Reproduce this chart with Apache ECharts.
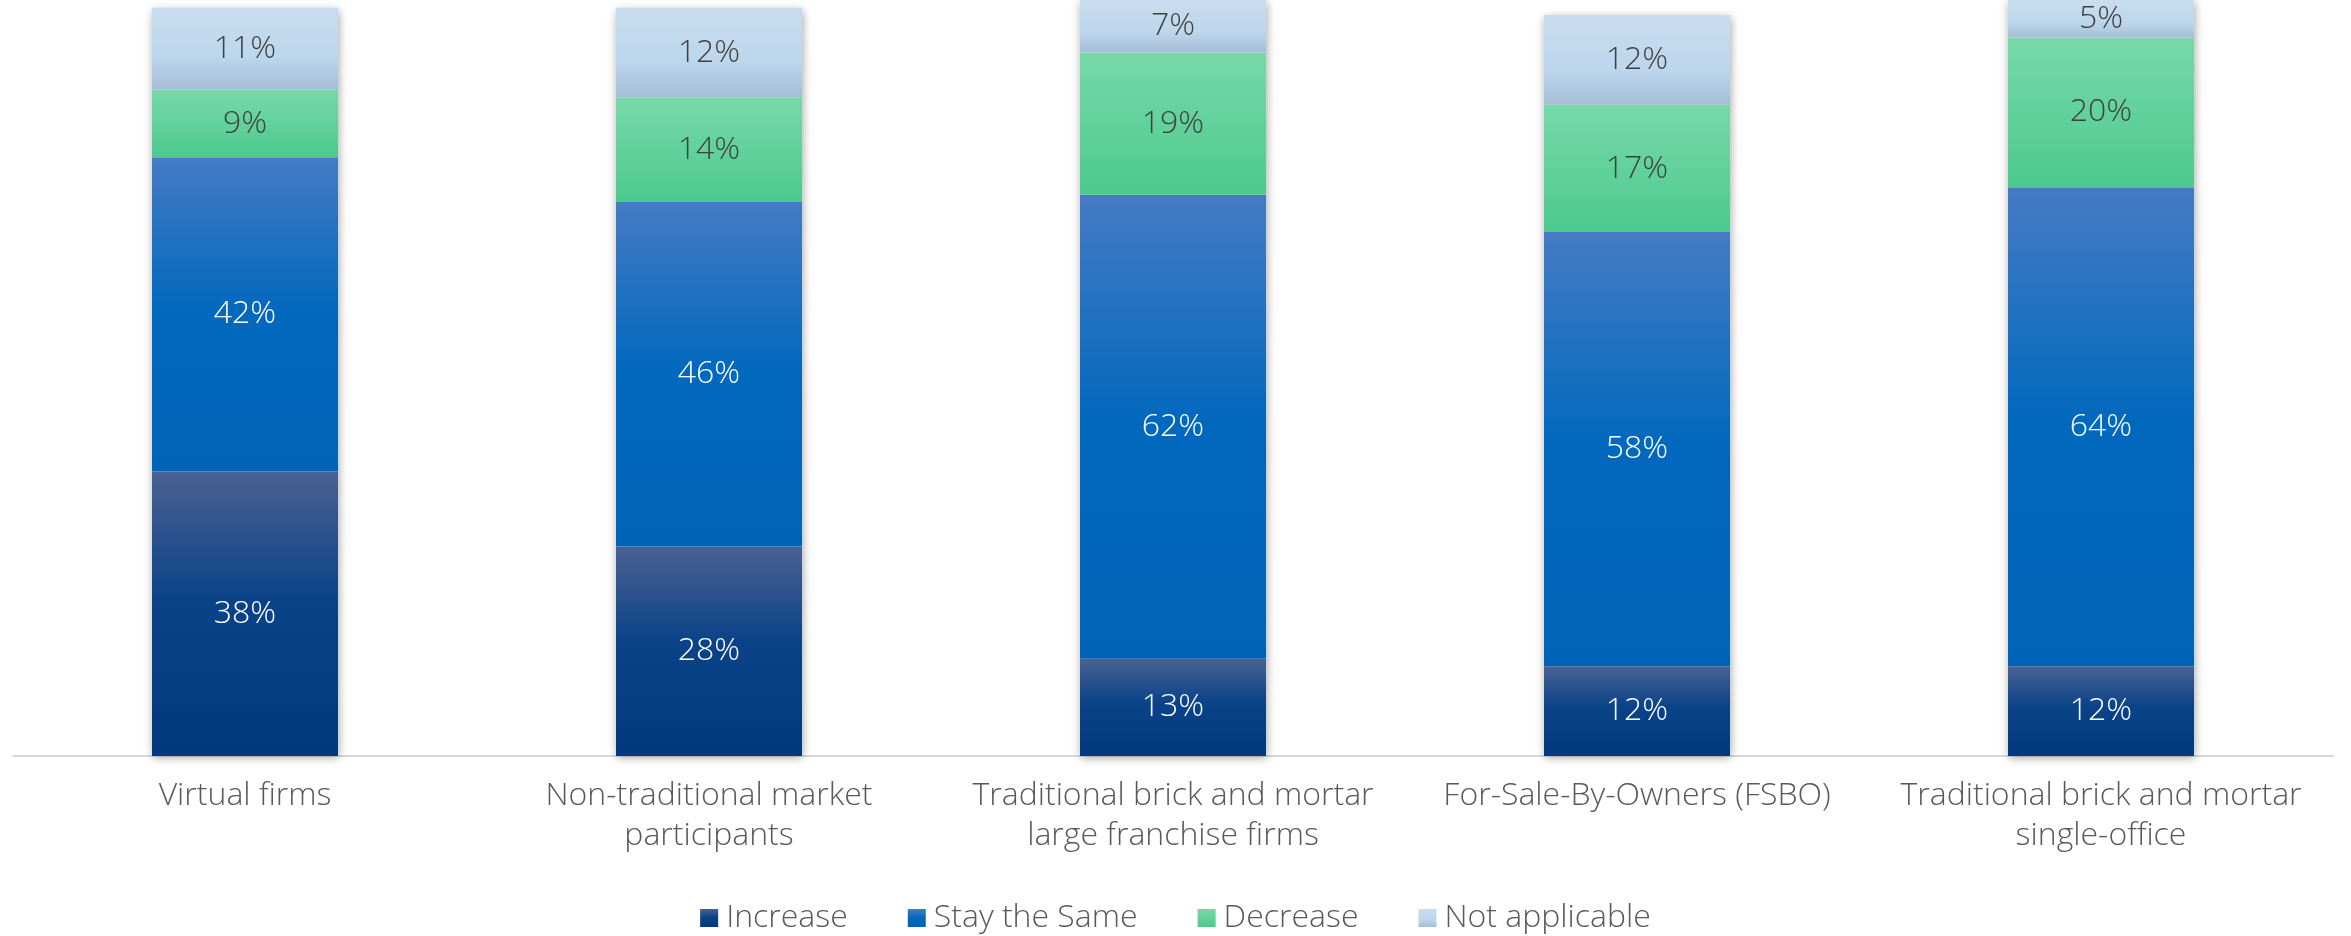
<!DOCTYPE html>
<html>
<head>
<meta charset="utf-8">
<title>Expected change by competitor type</title>
<script src="https://cdn.jsdelivr.net/npm/echarts@6/dist/echarts.min.js"></script>
<style>
  html, body { margin: 0; padding: 0; background: #ffffff; }
  #chart { width: 2351px; height: 936px; }
</style>
</head>
<body>
<div id="chart"></div>
<script>
// Competitor categories (x axis)
const categories = [
  'Virtual firms',
  'Non-traditional market\nparticipants',
  'Traditional brick and mortar\nlarge franchise firms',
  'For-Sale-By-Owners (FSBO)',
  'Traditional brick and mortar\nsingle-office'
];

// Share of respondents (%) per answer
const increase      = [38, 28, 13, 12, 12];
const stayTheSame   = [42, 46, 62, 58, 64];
const decrease      = [9, 14, 19, 17, 20];
const notApplicable = [11, 12, 7, 12, 5];

const seriesNames = ['Increase', 'Stay the Same', 'Decrease', 'Not applicable'];

const FONT = '"Open Sans", "Noto Sans", sans-serif';
const FONT_SIZE = 32;

function grad(stops) {
  return new echarts.graphic.LinearGradient(0, 0, 0, 1,
    stops.map(([offset, color]) => ({ offset, color })));
}

const fills = [
  grad([[0, '#4a6192'], [0.45, '#0b4388'], [1, '#00397e']]),
  grad([[0, '#457bc4'], [0.5, '#0068bd'], [1, '#0063b7']]),
  grad([[0, '#77d9a8'], [1, '#4cc98d']]),
  grad([[0, '#c9ddef'], [0.6, '#bcd6ec'], [1, '#a5bed6']])
];
const labelColors = ['#ffffff', '#ffffff', '#404040', '#404040'];
const values = [increase, stayTheSame, decrease, notApplicable];

// Column totals, used only for the soft drop shadow behind each stacked column
const totals = categories.map((_, i) => values.reduce((s, arr) => s + arr[i], 0));

const BAR_W = 186;

const series = [{
  name: 'shadow',
  type: 'bar',
  stack: 'bg',
  data: totals,
  barWidth: BAR_W,
  barGap: '-100%',
  z: 1,
  silent: true,
  clip: false,
  itemStyle: {
    color: '#ffffff',
    shadowBlur: 9,
    shadowColor: 'rgba(0,0,0,0.35)',
    shadowOffsetX: 1,
    shadowOffsetY: 2
  },
  label: { show: false },
  emphasis: { disabled: true }
}];

seriesNames.forEach((name, k) => {
  series.push({
    name,
    type: 'bar',
    stack: 'total',
    data: values[k],
    barWidth: BAR_W,
    barGap: '-100%',
    z: 2,
    clip: false,
    itemStyle: { color: fills[k] },
    label: {
      show: true,
      position: 'inside',
      formatter: p => p.value + '%',
      color: labelColors[k],
      fontFamily: FONT,
      fontWeight: 300,
      fontSize: FONT_SIZE
    },
    emphasis: { disabled: true }
  });
});

const chart = echarts.init(document.getElementById('chart'), null, { renderer: 'canvas' });
chart.setOption({
  animation: false,
  backgroundColor: '#ffffff',
  textStyle: { fontFamily: FONT },
  grid: {
    left: 13, right: 18, top: 7.5, bottom: 180,
    containLabel: false,
    outerBoundsMode: 'none'
  },
  legend: {
    data: seriesNames.map(n => ({ name: n, icon: 'rect' })),
    left: 'center',
    top: 897,
    itemWidth: 18,
    itemHeight: 18,
    itemGap: 60,
    textStyle: {
      color: '#595959',
      fontFamily: FONT,
      fontWeight: 300,
      fontSize: FONT_SIZE,
      padding: [0, 0, 0, 3]
    },
    selectedMode: false
  },
  xAxis: {
    type: 'category',
    data: categories,
    axisLine: { show: true, lineStyle: { color: '#d9d9d9', width: 2 } },
    axisTick: { show: false },
    axisLabel: {
      interval: 0,
      hideOverlap: false,
      margin: 20,
      color: '#595959',
      fontFamily: FONT,
      fontWeight: 300,
      fontSize: FONT_SIZE,
      lineHeight: 40
    }
  },
  yAxis: {
    type: 'value',
    min: 0,
    max: 100,
    show: false,
    splitLine: { show: false }
  },
  series
});
</script>
</body>
</html>
